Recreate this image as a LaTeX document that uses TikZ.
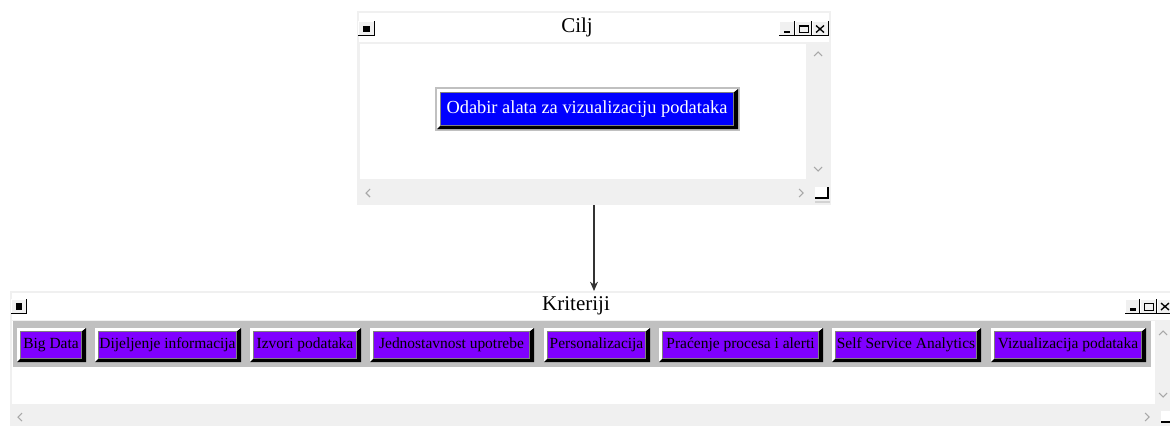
\documentclass[tikz,border=0pt]{standalone}
\usepackage{fontspec}
\setmainfont{Liberation Serif}
\usetikzlibrary{arrows.meta,positioning}

\definecolor{winbg}{HTML}{F0F0F0}
\definecolor{btngray}{HTML}{C0C0C0}
\definecolor{ciljblue}{HTML}{0000FF}
\definecolor{kritpurple}{HTML}{8000FF}
\definecolor{chevron}{HTML}{A8A8A8}

% beveled button: x0, y0, x1, y1, face colour
\newcommand{\bevelbtn}[5]{%
  \fill[btngray] (#1,#2) rectangle (#3,#4);
  \fill[white] (#1+2,#2+2) rectangle (#3-2,#4-2);
  \fill[black] (#3-2,#2+2) -- (#3-2,#4-2) -- (#1+2,#4-2) -- (#1+6,#4-6) -- (#3-7,#4-6) -- (#3-7,#2+6) -- cycle;
  \fill[gray] (#1+5,#2+5) rectangle (#3-6,#4-5);
  \fill[#5] (#1+6,#2+6) rectangle (#3-7,#4-6);
}
% small title bar button: x0, y0, x1, y1
\newcommand{\barbtn}[4]{%
  \fill[black] (#1,#2) rectangle (#3,#4);
  \fill[white] (#1,#2) rectangle (#3-1.5,#4-1.5);
  \fill[winbg] (#1+1,#2+1) rectangle (#3-1.5,#4-1.5);
}

\tikzset{
  window/.style={fill=winbg, inner sep=0pt, outer sep=0pt},
  wintitle/.style={inner sep=0pt, font=\fontsize{15.75}{18}\selectfont},
  ciljlabel/.style={inner sep=0pt, text=white, font=\fontsize{13.8}{16}\selectfont},
  kritlabel/.style={inner sep=0pt, text=black, font=\fontsize{11.6}{14}\selectfont},
  chev/.style={chevron, line width=0.8pt}
}

\begin{document}
\begin{tikzpicture}[x=0.75pt, y=-0.75pt]
\useasboundingbox (0,0) rectangle (1170,425);
\clip (0,0) rectangle (1170,425);

% Cilj window
\node[window, minimum width=355.5pt, minimum height=145.5pt] (cilj) at (594,108) {};
\fill[white] (359,13) rectangle (829,42);
\fill[white] (360,44) rectangle (806,179);
\node[wintitle] (ciljtitle) at (577,27) {Cilj};
\barbtn{358}{21}{375}{36}
\fill[black] (363,25.5) rectangle (369.5,32);
\foreach \xa/\xb in {779/795, 795/812, 812/829}{
  \barbtn{\xa}{21}{\xb}{36}
}
\fill[black] (784,30.5) rectangle (789.5,33);
\draw[black, line width=0.7pt] (799,25.5) rectangle (808.5,32.5);
\draw[black, line width=1.4pt] (799,26) -- (808.5,26);
\draw[black, line width=1pt] (816,25.5) -- (824,32.5) (824,25.5) -- (816,32.5);
% scroll bars
\draw[chev] (814,56) -- (818,52) -- (822,56);
\draw[chev] (814,167) -- (818,171) -- (822,167);
\draw[chev] (370,189) -- (366,193) -- (370,197);
\draw[chev] (799,189) -- (803,193) -- (799,197);
\fill[white] (815,187) rectangle (828,198);
\draw[black, line width=0.8pt] (815,198) -- (828,198) -- (828,187);
\fill[btngray!70] (815,201) rectangle (830,203);

% goal button
\bevelbtn{435}{87}{740}{131}{ciljblue}
\node[ciljlabel] (odabir) at (587,109) {Odabir alata za vizualizaciju podataka};

% Kriteriji window
\node[window, minimum width=877.5pt, minimum height=102pt] (kriteriji) at (595,359) {};
\fill[white] (12,293) rectangle (1180,320);
\fill[white] (12,321) rectangle (1155,404);
\node[wintitle] (krittitle) at (576,306) {Kriteriji};
\barbtn{11}{299}{27}{314}
\fill[black] (15.5,303) rectangle (22,309.5);
\foreach \xa/\xb in {1125/1140, 1140/1157, 1157/1174}{
  \barbtn{\xa}{299}{\xb}{314}
}
\fill[black] (1130,308) rectangle (1135.5,310.5);
\draw[black, line width=0.7pt] (1144,303) rectangle (1153.5,310);
\draw[black, line width=1.4pt] (1144,303.5) -- (1153.5,303.5);
\draw[black, line width=1pt] (1161,303) -- (1169,310) (1169,303) -- (1161,310);
% scroll bars
\draw[chev] (1159,335) -- (1163,331) -- (1167,335);
\draw[chev] (1159,393) -- (1163,397) -- (1167,393);
\draw[chev] (22,413) -- (18,417) -- (22,421);
\draw[chev] (1145,413) -- (1149,417) -- (1145,421);
\fill[white] (1161,411) rectangle (1175,422);
\draw[black, line width=0.8pt] (1161,422) -- (1175,422);

% criteria buttons
\fill[btngray] (13,321) rectangle (1151,367);
\foreach \xa/\xb/\lbl [count=\i] in {15/88/Big Data, 93/243/Dijeljenje informacija,
    248/363/Izvori podataka, 368/536/Jednostavnost upotrebe, 542/652/Personalizacija,
    657/825/Praćenje procesa i alerti, 830/983/Self Service Analytics,
    989/1148/Vizualizacija podataka}{
  \bevelbtn{\xa}{326}{\xb}{364}{kritpurple}
  \node[kritlabel] (k\i) at ({(\xa+\xb-1)/2},345) {\lbl};
}

% connector
\draw[-{Stealth[length=7pt, width=6pt]}, black!80, line width=0.8pt] (cilj.south) -- (cilj.south |- kriteriji.north);
\end{tikzpicture}
\end{document}
